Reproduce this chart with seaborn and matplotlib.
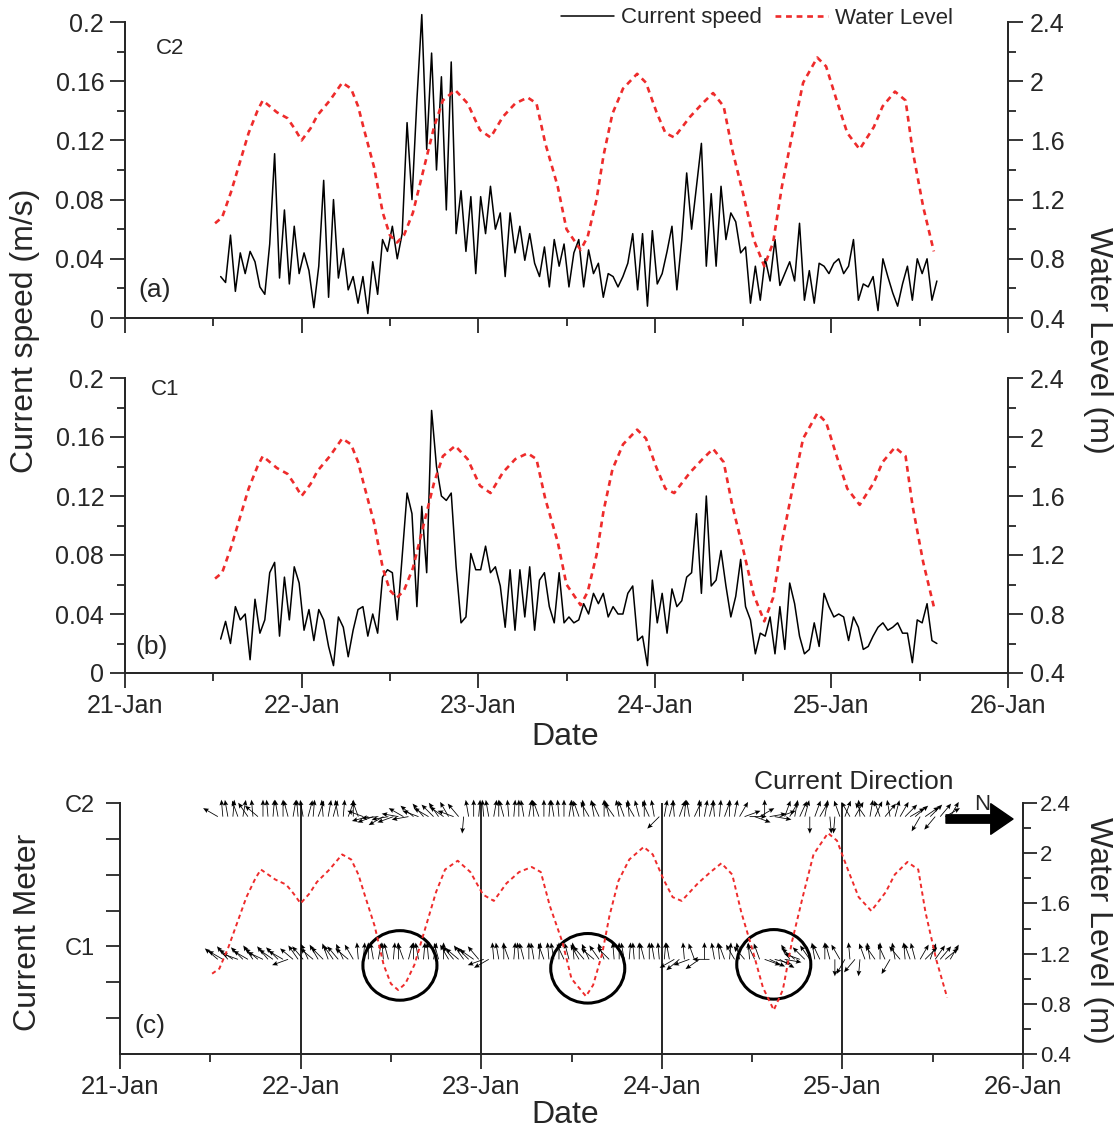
import numpy as np
import pandas as pd
import matplotlib
matplotlib.use("Agg")
import matplotlib.pyplot as plt
import matplotlib.dates as mdates
from matplotlib.patches import Ellipse
from matplotlib.ticker import MultipleLocator, FuncFormatter
import seaborn as sns

# current meters sampled every 40 min from 21-Jan 13:00
start_time = "2015-01-21 13:00"

speed_c2 = [
    0.028, 0.024, 0.056, 0.018, 0.044, 0.030, 0.045, 0.038, 0.021, 0.016,
    0.050, 0.111, 0.027, 0.073, 0.023, 0.062, 0.030, 0.044, 0.032, 0.007,
    0.035, 0.093, 0.014, 0.080, 0.027, 0.047, 0.019, 0.028, 0.010, 0.028,
    0.003, 0.038, 0.016, 0.053, 0.045, 0.062, 0.040, 0.057, 0.132, 0.080,
    0.147, 0.205, 0.114, 0.179, 0.100, 0.163, 0.073, 0.173, 0.057, 0.086,
    0.045, 0.082, 0.030, 0.082, 0.057, 0.089, 0.060, 0.071, 0.028, 0.071,
    0.044, 0.062, 0.039, 0.057, 0.037, 0.028, 0.048, 0.021, 0.053, 0.035,
    0.050, 0.021, 0.044, 0.053, 0.021, 0.046, 0.030, 0.037, 0.014,
    0.030, 0.028, 0.021, 0.028, 0.037, 0.057, 0.019, 0.057, 0.008, 0.059,
    0.023, 0.030, 0.045, 0.062, 0.019, 0.053, 0.098, 0.060, 0.089, 0.118,
    0.035, 0.084, 0.035, 0.089, 0.053, 0.071, 0.065, 0.044, 0.048, 0.010,
    0.035, 0.012, 0.040, 0.025, 0.053, 0.022, 0.030, 0.038, 0.025, 0.064,
    0.012, 0.032, 0.010, 0.037, 0.035, 0.030, 0.037, 0.040, 0.030, 0.035,
    0.053, 0.012, 0.023, 0.021, 0.028, 0.005, 0.040, 0.028, 0.017, 0.008,
    0.023, 0.035, 0.012, 0.040, 0.030, 0.040, 0.012, 0.025,
]

speed_c1 = [
    0.023, 0.035, 0.020, 0.045, 0.036, 0.040, 0.009, 0.050, 0.027, 0.036,
    0.068, 0.075, 0.025, 0.065, 0.036, 0.072, 0.061, 0.029, 0.043, 0.022,
    0.043, 0.036, 0.018, 0.005, 0.038, 0.031, 0.011, 0.029, 0.043, 0.045,
    0.025, 0.040, 0.027, 0.065, 0.070, 0.068, 0.036, 0.079, 0.122, 0.108,
    0.045, 0.113, 0.068, 0.178, 0.140, 0.120, 0.117, 0.122, 0.072, 0.034,
    0.038, 0.081, 0.070, 0.070, 0.086, 0.068, 0.072, 0.059, 0.031, 0.070,
    0.029, 0.070, 0.038, 0.072, 0.029, 0.063, 0.068, 0.045, 0.034, 0.068,
    0.034, 0.038, 0.034, 0.036, 0.047, 0.040, 0.054, 0.047, 0.054,
    0.038, 0.045, 0.040, 0.040, 0.054, 0.059, 0.022, 0.025, 0.005, 0.063,
    0.034, 0.054, 0.027, 0.057, 0.045, 0.049, 0.065, 0.068, 0.108, 0.054,
    0.120, 0.059, 0.063, 0.083, 0.059, 0.038, 0.052, 0.077, 0.045, 0.036,
    0.013, 0.027, 0.025, 0.038, 0.013, 0.045, 0.016, 0.061, 0.047, 0.025,
    0.013, 0.016, 0.034, 0.018, 0.054, 0.045, 0.038, 0.040, 0.038, 0.022,
    0.038, 0.031, 0.016, 0.018, 0.025, 0.031, 0.034, 0.029, 0.031, 0.034,
    0.027, 0.027, 0.007, 0.036, 0.034, 0.047, 0.022, 0.020,
]

# stick directions in degrees on the page (0 = N arrow, 90 = up)
dir_c2 = [
    150, 95, 100, 85, 110, 80, 125, 95, 140, 90,
    95, 85, 100, 90, 105, 80, 95, 100, 75, 85,
    70, 95, 80, 75, 100, 85, 70, 90, 110, 160,
    195, 200, 185, 210, 190, 200, 170, 150, 190, 140,
    160, 130, 150, 135, 125, 145, 120, 160, 130, 265,
    100, 90, 85, 95, 100, 80, 90, 105, 95, 85,
    90, 100, 80, 95, 110, 90, 85, 100, 95, 90,
    80, 100, 110, 95, 120, 100, 115, 90, 105, 125,
    100, 110, 95, 120, 105, 90, 115, 100, 225, 80,
    75, 95, 70, 85, 100, 65, 90, 80, 75, 95,
    85, 70, 90, 80, 60, 20, 0, 340, 30, 90,
    10, 350, 20, 70, 60, 80, 65, 75, 270, 70,
    60, 80, 275, 265, 110, 70, 120, 60, 95, 125,
    80, 65, 110, 50, 100, 75, 60, 45, 30, 40,
    240, 35, 45, 230, 50, 30, 60,
]

dir_c1 = [
    140, 150, 130, 145, 160, 135, 150, 125, 140, 155,
    130, 145, 135, 150, 200, 140, 125, 130, 115, 140,
    120, 135, 110, 125, 130, 115, 140, 120, 95, 85,
    90, 100, 80, 95, 105, 85, 90, 110, 75, 90,
    100, 85, 95, 80, 105, 90, 120, 130, 140, 125,
    135, 145, 130, 200, 210, 95, 100, 90, 110, 85,
    95, 105, 90, 100, 85, 110, 95, 100, 90, 115,
    105, 95, 120, 130, 115, 140, 125, 110, 135, 95,
    90, 100, 85, 95, 90, 105, 90, 100, 95, 85,
    100, 210, 220, 95, 200, 110, 215, 90, 180, 100,
    95, 110, 85, 120, 100, 130, 95, 115, 110, 340,
    335, 345, 330, 350, 120, 140, 160, 135, 125, 100,
    115, 90, 105, 270, 120, 240, 95, 230, 265, 110,
    100, 125, 90, 115, 240, 100, 130, 95, 110, 105,
    60, 45, 70, 55, 50, 40, 60,
]

# water level (day of January, metres)
wl_days = [
    21.51, 21.55, 21.60, 21.65, 21.70, 21.75, 21.78, 21.82, 21.86, 21.92,
    21.96, 22.00, 22.05, 22.09, 22.16, 22.23, 22.28, 22.32, 22.35, 22.41,
    22.46, 22.50, 22.54, 22.58, 22.63, 22.69, 22.75, 22.80, 22.87, 22.94,
    23.01, 23.07, 23.14, 23.21, 23.28, 23.33, 23.38, 23.45, 23.50, 23.58,
    23.62, 23.67, 23.71, 23.76, 23.82, 23.90, 23.95, 24.01, 24.06, 24.11,
    24.20, 24.27, 24.33, 24.39, 24.44, 24.50, 24.56, 24.62, 24.67, 24.72,
    24.78, 24.84, 24.92, 24.97, 25.03, 25.09, 25.16, 25.24, 25.29, 25.36,
    25.42, 25.46, 25.52, 25.58,
]
wl_level = [
    1.04, 1.08, 1.25, 1.45, 1.65, 1.80, 1.87, 1.83, 1.79, 1.75,
    1.68, 1.60, 1.68, 1.77, 1.87, 1.99, 1.95, 1.83, 1.69, 1.42,
    1.11, 0.96, 0.91, 0.96, 1.11, 1.40, 1.69, 1.87, 1.94, 1.85,
    1.67, 1.62, 1.76, 1.85, 1.89, 1.85, 1.58, 1.29, 1.00, 0.86,
    0.95, 1.20, 1.50, 1.78, 1.95, 2.05, 1.99, 1.79, 1.65, 1.62,
    1.76, 1.85, 1.92, 1.83, 1.53, 1.24, 0.93, 0.75, 0.91, 1.29,
    1.65, 1.99, 2.16, 2.10, 1.87, 1.65, 1.54, 1.69, 1.83, 1.93,
    1.87, 1.53, 1.15, 0.85,
]

day_lines = [22, 23, 24, 25]
circle_days = [22.55, 23.59, 24.62]
circle_meter = [2.47, 2.39, 2.50]

sns.set_style("ticks")
plt.rcParams["font.family"] = ["Liberation Sans", "DejaVu Sans"]

times = pd.date_range(start_time, periods=len(speed_c2), freq="40min")
df = pd.DataFrame({"time": times, "C2": speed_c2, "C1": speed_c1})
jan1 = pd.Timestamp("2015-01-01")
wl = pd.DataFrame({"time": jan1 + pd.to_timedelta(np.array(wl_days) - 1, unit="D"),
                   "level": wl_level})

W, H = 1120, 1136
fig = plt.figure(figsize=(W / 100, H / 100), dpi=100)


def box(l, t, r, b):
    return [l / W, 1 - b / H, (r - l) / W, (b - t) / H]


def ftext(x, y, s, **kw):
    fig.text(x / W, 1 - y / H, s, ha="center", va="center", **kw)


red = "#ee2b2b"
wl_style = (0, (2.2, 1.8))
fmt = FuncFormatter(lambda v, p: f"{v:g}")
xmin, xmax = pd.Timestamp("2015-01-21"), pd.Timestamp("2015-01-26")


def style_x(ax, labels=True, fs=18):
    ax.set_xlim(xmin, xmax)
    ax.xaxis.set_major_locator(mdates.DayLocator())
    ax.xaxis.set_minor_locator(mdates.HourLocator(byhour=[12]))
    ax.xaxis.set_major_formatter(mdates.DateFormatter("%d-%b"))
    ax.tick_params(axis="x", which="major", direction="out", length=11, width=1.3,
                   labelsize=fs, pad=4, labelbottom=labels)
    ax.tick_params(axis="x", which="minor", direction="out", length=6, width=1.3)


def speed_panel(ax, col):
    sns.lineplot(data=df, x="time", y=col, ax=ax, color="k", lw=1.1, errorbar=None)
    ax.lines[-1].set_clip_on(False)
    ax.set_ylim(0, 0.2)
    ax.yaxis.set_major_locator(MultipleLocator(0.04))
    ax.yaxis.set_minor_locator(MultipleLocator(0.02))
    ax.yaxis.set_major_formatter(fmt)
    ax.tick_params(axis="y", which="major", direction="out", length=11, width=1.3,
                   labelsize=18, pad=4)
    ax.tick_params(axis="y", which="minor", direction="out", length=6, width=1.3)
    ax.set_xlabel("")
    ax.set_ylabel("")
    ax2 = ax.twinx()
    sns.lineplot(data=wl, x="time", y="level", ax=ax2, color=red, lw=1.9,
                 linestyle=wl_style, errorbar=None)
    ax2.set_ylim(0.4, 2.4)
    ax2.yaxis.set_major_locator(MultipleLocator(0.4))
    ax2.yaxis.set_minor_locator(MultipleLocator(0.2))
    ax2.yaxis.set_major_formatter(fmt)
    ax2.tick_params(axis="y", which="major", direction="out", length=11, width=1.3,
                    labelsize=18, pad=5)
    ax2.tick_params(axis="y", which="minor", direction="out", length=6, width=1.3)
    ax2.set_ylabel("")
    for a in (ax, ax2):
        a.spines["top"].set_visible(False)
        for s in ("left", "right", "bottom"):
            a.spines[s].set_linewidth(1.3)
    return ax2


# (a) C2
ax_a = fig.add_axes(box(125, 22, 1008, 318))
ax_a2 = speed_panel(ax_a, "C2")
style_x(ax_a, labels=False)

# (b) C1
ax_b = fig.add_axes(box(125, 378, 1008, 673))
speed_panel(ax_b, "C1")
style_x(ax_b)

fig.legend([ax_a.lines[-1], ax_a2.lines[-1]], ["Current speed", "Water Level"],
           loc="center", bbox_to_anchor=(757 / W, 1 - 18 / H), ncol=2, frameon=False,
           fontsize=16, handlelength=2.4, handletextpad=0.3, columnspacing=0.6)

# (c) stick plot of current direction
ax_c = fig.add_axes(box(120, 803, 1023, 1054))
style_x(ax_c, fs=18.5)
ax_c.set_ylim(0, 7)
ax_c.set_yticks(range(1, 8))
ax_c.set_yticklabels(["", "", "C1", "", "", "", "C2"])
ax_c.tick_params(axis="y", direction="out", length=10, width=1.3, labelsize=17, pad=8)
ax_c.vlines([jan1 + pd.Timedelta(days=d - 1) for d in day_lines], 0, 7,
            color="k", lw=1.2)

x_num = mdates.date2num(df["time"])
n = len(df)
for base, dirs in [(6.62, dir_c2), (2.64, dir_c1)]:
    ax_c.quiver(x_num, np.full(n, base), np.ones(n), np.zeros(n),
                angles=np.array(dirs, float), scale_units="dots", scale=1 / 17,
                units="dots", width=0.8, headwidth=6, headlength=7,
                headaxislength=6, color="k", clip_on=False, zorder=3)

for d, m in zip(circle_days, circle_meter):
    xc = mdates.date2num(jan1 + pd.Timedelta(days=d - 1))
    ax_c.add_patch(Ellipse((xc, m), width=0.41, height=1.94, fill=False,
                           ec="k", lw=2.2, zorder=4))

ax_c2 = ax_c.twinx()
sns.lineplot(data=wl, x="time", y="level", ax=ax_c2, color=red, lw=1.4,
             linestyle=wl_style, errorbar=None)
ax_c2.set_ylim(0.4, 2.4)
ax_c2.yaxis.set_major_locator(MultipleLocator(0.4))
ax_c2.yaxis.set_minor_locator(MultipleLocator(0.2))
ax_c2.yaxis.set_major_formatter(fmt)
ax_c2.tick_params(axis="y", which="major", direction="out", length=10, width=1.3,
                  labelsize=16, pad=2)
ax_c2.tick_params(axis="y", which="minor", direction="out", length=6, width=1.3)
ax_c2.set_ylabel("")
for a in (ax_c, ax_c2):
    a.set_xlabel("")
    a.spines["top"].set_visible(False)
    for s in ("left", "right", "bottom"):
        a.spines[s].set_linewidth(1.3)

ax_c.annotate("", xy=(1013, H - 819), xycoords="figure pixels",
              xytext=(946, H - 819), textcoords="figure pixels",
              arrowprops=dict(facecolor="k", edgecolor="k", width=6,
                              headwidth=22, headlength=16, shrink=0),
              annotation_clip=False)

# labels
ftext(25, 331, "Current speed (m/s)", rotation=90, fontsize=23)
ftext(1098, 340, "Water Level (m)", rotation=270, fontsize=23)
ftext(28, 932, "Current Meter", rotation=90, fontsize=23)
ftext(1098, 930, "Water Level (m)", rotation=270, fontsize=23)
ftext(565, 737, "Date", fontsize=23)
ftext(565, 1115, "Date", fontsize=23)
ftext(854, 782, "Current Direction", fontsize=19)
ftext(982, 804, "N", fontsize=16)
ftext(170, 48, "C2", fontsize=16)
ftext(155, 290, "(a)", fontsize=19)
ftext(165, 390, "C1", fontsize=16)
ftext(152, 647, "(b)", fontsize=19)
ftext(150, 1026, "(c)", fontsize=19)

fig.savefig("out.png", dpi=100)
